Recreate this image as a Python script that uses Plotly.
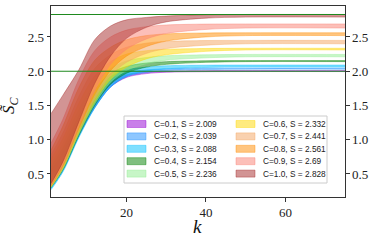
import plotly.graph_objects as go

# ---------------- data ----------------
k_values = [1, 4, 8, 12, 16, 20, 25, 30, 40, 50, 75]

c_values = [0.1, 0.2, 0.3, 0.4, 0.5, 0.6, 0.7, 0.8, 0.9, 1.0]
s_values = ["2.009", "2.039", "2.088", "2.154", "2.236", "2.332", "2.441", "2.561", "2.69", "2.828"]

lower_c01 = [0.30, 0.56, 1.06, 1.47, 1.77, 1.91, 1.965, 1.985, 1.993, 1.995, 1.995]
upper_c01 = [0.48, 0.74, 1.20, 1.58, 1.84, 1.95, 1.99, 2.002, 2.008, 2.009, 2.009]
lower_c02 = [0.29, 0.55, 1.05, 1.47, 1.77, 1.92, 1.98, 2.01, 2.025, 2.03, 2.03]
upper_c02 = [0.55, 0.80, 1.25, 1.62, 1.88, 1.98, 2.02, 2.035, 2.043, 2.045, 2.045]
lower_c03 = [0.27, 0.53, 1.03, 1.46, 1.77, 1.93, 2.00, 2.035, 2.055, 2.06, 2.06]
upper_c03 = [0.55, 0.82, 1.28, 1.66, 1.92, 2.02, 2.06, 2.08, 2.088, 2.09, 2.09]
lower_c04 = [0.30, 0.56, 1.06, 1.50, 1.81, 1.97, 2.06, 2.10, 2.13, 2.14, 2.14]
upper_c04 = [0.60, 0.88, 1.35, 1.73, 1.97, 2.07, 2.12, 2.14, 2.152, 2.155, 2.155]
lower_c05 = [0.30, 0.57, 1.08, 1.52, 1.84, 2.01, 2.11, 2.16, 2.195, 2.21, 2.21]
upper_c05 = [0.65, 0.95, 1.44, 1.82, 2.04, 2.15, 2.20, 2.225, 2.24, 2.245, 2.245]
lower_c06 = [0.31, 0.58, 1.10, 1.55, 1.88, 2.06, 2.18, 2.24, 2.29, 2.31, 2.31]
upper_c06 = [0.72, 1.02, 1.53, 1.93, 2.14, 2.25, 2.30, 2.32, 2.332, 2.335, 2.335]
lower_c07 = [0.32, 0.60, 1.13, 1.60, 1.94, 2.13, 2.26, 2.33, 2.38, 2.40, 2.40]
upper_c07 = [0.78, 1.10, 1.63, 2.04, 2.24, 2.35, 2.41, 2.435, 2.448, 2.45, 2.45]
lower_c08 = [0.33, 0.62, 1.16, 1.66, 2.01, 2.22, 2.36, 2.44, 2.50, 2.52, 2.52]
upper_c08 = [0.85, 1.20, 1.76, 2.16, 2.35, 2.46, 2.52, 2.545, 2.558, 2.561, 2.561]
lower_c09 = [0.34, 0.64, 1.20, 1.72, 2.10, 2.32, 2.47, 2.55, 2.61, 2.63, 2.63]
upper_c09 = [0.95, 1.30, 1.88, 2.30, 2.50, 2.60, 2.65, 2.675, 2.688, 2.69, 2.69]
lower_c10 = [0.36, 0.68, 1.26, 1.82, 2.22, 2.48, 2.64, 2.72, 2.775, 2.79, 2.79]
upper_c10 = [1.38, 1.65, 2.02, 2.46, 2.66, 2.75, 2.785, 2.805, 2.823, 2.828, 2.828]

reference_levels = [2.0, 2.828]

x_ticks = [20, 40, 60]
y_ticks = [0.5, 1.0, 1.5, 2.0, 2.5]

# ---------------- styling ----------------
lowers = [lower_c01, lower_c02, lower_c03, lower_c04, lower_c05,
          lower_c06, lower_c07, lower_c08, lower_c09, lower_c10]
uppers = [upper_c01, upper_c02, upper_c03, upper_c04, upper_c05,
          upper_c06, upper_c07, upper_c08, upper_c09, upper_c10]
base_rgb = [(148, 0, 211), (30, 144, 255), (0, 191, 255), (0, 128, 0), (144, 238, 144),
            (255, 215, 0), (244, 164, 96), (255, 140, 0), (250, 128, 114), (165, 42, 42)]
ALPHA = 0.5


def rgba(c, a=ALPHA):
    return f"rgba({c[0]},{c[1]},{c[2]},{a})"


W, H = 374, 242
L, R, T, B = 51, 345, 6, 197
X_RANGE = [1, 75]
Y_RANGE = [0.164, 2.952]

fig = go.Figure()

for c, lo, up, col in zip(c_values, lowers, uppers, base_rgb):
    fig.add_trace(go.Scatter(x=k_values, y=lo, mode="lines",
                             line=dict(color=rgba(col), width=0.8, shape="spline", smoothing=0.9),
                             showlegend=False, hoverinfo="skip"))
    fig.add_trace(go.Scatter(x=k_values, y=up, mode="lines", fill="tonexty",
                             fillcolor=rgba(col),
                             line=dict(color=rgba(col), width=0.8, shape="spline", smoothing=0.9),
                             showlegend=False, name=f"C={c}"))

for lvl in reference_levels:
    fig.add_trace(go.Scatter(x=X_RANGE, y=[lvl, lvl], mode="lines", yaxis="y2",
                             line=dict(color="#1f8a1f", width=1.1),
                             showlegend=False, hoverinfo="skip"))

# ---------------- manual legend (two columns, matplotlib-like) ----------------
def px_x(x):
    return (x - L) / (R - L)


def px_y(y):
    return (B - y) / (B - T)


shapes = [dict(type="rect", xref="paper", yref="paper", layer="above",
               x0=px_x(124), x1=px_x(327), y0=px_y(183), y1=px_y(116),
               fillcolor="rgba(255,255,255,0.85)", line=dict(color="#cccccc", width=1))]
annotations = []
row_y = [124, 136.4, 148.8, 161.2, 173.6]
col_patch_x = [127, 236]
col_text_x = [152, 261]
for i, (c, s, col) in enumerate(zip(c_values, s_values, base_rgb)):
    ci, ri = divmod(i, 5)
    yc = row_y[ri]
    shapes.append(dict(type="rect", xref="paper", yref="paper", layer="above",
                       x0=px_x(col_patch_x[ci]), x1=px_x(col_patch_x[ci] + 19),
                       y0=px_y(yc + 3.5), y1=px_y(yc - 3.5),
                       fillcolor=rgba(col), line=dict(color=rgba(col), width=0.8)))
    annotations.append(dict(xref="paper", yref="paper", x=px_x(col_text_x[ci]), y=px_y(yc),
                            xanchor="left", yanchor="middle", showarrow=False,
                            text=f"C={c:.1f}, S = {s}",
                            font=dict(family="Liberation Sans, Arial", size=8.3, color="#222")))

annotations.append(dict(xref="paper", yref="paper", x=px_x(197), y=px_y(226),
                        xanchor="center", yanchor="middle", showarrow=False,
                        text="<i>k</i>",
                        font=dict(family="Liberation Serif, serif", size=19, color="#111")))
annotations.append(dict(xref="paper", yref="paper", x=px_x(10), y=px_y(105),
                        xanchor="center", yanchor="middle", showarrow=False, textangle=-90,
                        text="<i>S\u0303</i><sub><i>C</i></sub>",
                        font=dict(family="Liberation Serif, serif", size=17, color="#111")))

tick_font = dict(family="Liberation Serif, serif", size=13, color="#222")
fig.update_layout(
    width=W, height=H,
    margin=dict(l=L, r=W - R, t=T, b=H - B),
    paper_bgcolor="white", plot_bgcolor="white",
    showlegend=False,
    xaxis=dict(range=X_RANGE, tickvals=x_ticks, ticks="outside", ticklen=3.5, tickwidth=0.8,
               tickcolor="#333", showline=True, linecolor="#333", linewidth=1, mirror=True,
               showgrid=False, zeroline=False, tickfont=tick_font),
    yaxis=dict(range=Y_RANGE, tickvals=y_ticks, ticktext=[f"{v:.1f}" for v in y_ticks],
               ticks="outside", ticklen=3.5, tickwidth=0.8,
               tickcolor="#333", showline=True, linecolor="#333", linewidth=1,
               showgrid=False, zeroline=False, tickfont=tick_font),
    yaxis2=dict(range=Y_RANGE, tickvals=y_ticks, ticktext=[f"{v:.1f}" for v in y_ticks],
                overlaying="y", side="right", ticks="outside", ticklen=3.5, tickwidth=0.8,
                tickcolor="#333", showline=True, linecolor="#333", linewidth=1,
                showgrid=False, zeroline=False, tickfont=tick_font),
    shapes=shapes, annotations=annotations,
)

fig.write_html("out.html", config={"displayModeBar": False},
               post_script="document.body.style.margin='0px';document.body.style.overflow='hidden';")
